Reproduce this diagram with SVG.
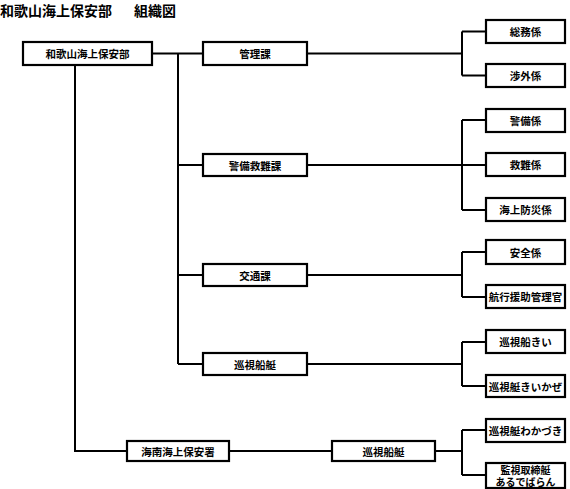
<svg xmlns="http://www.w3.org/2000/svg" width="570" height="489" viewBox="0 0 570 489">
<style>
.b{fill:#fff;stroke:#000;stroke-width:2.2}
.t{font-family:"Noto Sans CJK JP","Noto Sans",sans-serif;font-size:10.5px;font-weight:bold;text-anchor:middle;dominant-baseline:central;fill:#000}
.s{font-size:10px}
.c{fill:none;stroke:#000;stroke-width:2}
.title{font-family:"Noto Sans CJK JP","Noto Sans",sans-serif;font-size:14px;font-weight:bold;fill:#000}
</style>
<rect width="570" height="489" fill="#fff"/>
<text class="title" x="0" y="16">和歌山海上保安部<tspan x="134">組織図</tspan></text>
<g id="connectors">
<path class="c" d="M152 53.5H203M178 53.5V364M178 165H203M178 275H203M178 364H203"/>
<path class="c" d="M75 65V451H127M229 451H332M435 451H462"/>
<path class="c" d="M307 53.5H462M462 31.5V75.5M462 31.5H486M462 75.5H486"/>
<path class="c" d="M307 165H462M462 120V210M462 120H486M462 165H486M462 210H486"/>
<path class="c" d="M307 275H462M462 252V297M462 252H486M462 297H486"/>
<path class="c" d="M307 364H462M462 342V386M462 342H486M462 386H486"/>
<path class="c" d="M462 430V475M462 430H486M462 475H486"/>
</g>
<g id="n-hq"><rect class="b" x="23" y="42" width="129" height="23"/><text class="t" x="87.5" y="53.5">和歌山海上保安部</text></g>
<g id="n-kanri"><rect class="b" x="203" y="42" width="104" height="23"/><text class="t" x="255" y="53.5">管理課</text></g>
<g id="n-keibi"><rect class="b" x="203" y="154" width="104" height="22"/><text class="t" x="255" y="165">警備救難課</text></g>
<g id="n-kotsu"><rect class="b" x="203" y="264" width="104" height="22"/><text class="t" x="255" y="275">交通課</text></g>
<g id="n-junshi"><rect class="b" x="203" y="353" width="104" height="22"/><text class="t" x="255" y="364">巡視船艇</text></g>
<g id="n-kainan"><rect class="b" x="127" y="441" width="102" height="20"/><text class="t" x="178" y="451">海南海上保安署</text></g>
<g id="n-kainan-junshi"><rect class="b" x="332" y="441" width="103" height="20"/><text class="t" x="383.5" y="451">巡視船艇</text></g>
<g id="n-somu"><rect class="b" x="486" y="20" width="79" height="23"/><text class="t" x="525.5" y="31.5">総務係</text></g>
<g id="n-shogai"><rect class="b" x="486" y="64" width="79" height="23"/><text class="t" x="525.5" y="75.5">渉外係</text></g>
<g id="n-keibikakari"><rect class="b" x="486" y="109" width="79" height="23"/><text class="t" x="525.5" y="120.5">警備係</text></g>
<g id="n-kyunan"><rect class="b" x="486" y="153" width="79" height="23"/><text class="t" x="525.5" y="164.5">救難係</text></g>
<g id="n-bosai"><rect class="b" x="486" y="198" width="79" height="23"/><text class="t" x="525.5" y="209.5">海上防災係</text></g>
<g id="n-anzen"><rect class="b" x="486" y="240" width="79" height="24"/><text class="t" x="525.5" y="252">安全係</text></g>
<g id="n-kokou"><rect class="b" x="486" y="285" width="79" height="23"/><text class="t" x="525.5" y="296.5">航行援助管理官</text></g>
<g id="n-kii"><rect class="b" x="486" y="330" width="79" height="23"/><text class="t" x="525.5" y="341.5">巡視船きい</text></g>
<g id="n-kiikaze"><rect class="b" x="486" y="375" width="79" height="22"/><text class="t" x="525.5" y="386">巡視艇きいかぜ</text></g>
<g id="n-wakazuki"><rect class="b" x="486" y="419" width="79" height="23"/><text class="t" x="525.5" y="430.5">巡視艇わかづき</text></g>
<g id="n-aldebaran"><rect class="b" x="486" y="463" width="79" height="25"/><text class="t s" x="525.5" y="469.5">監視取締艇<tspan x="525.5" dy="11.5">あるでばらん</tspan></text></g>
</svg>
